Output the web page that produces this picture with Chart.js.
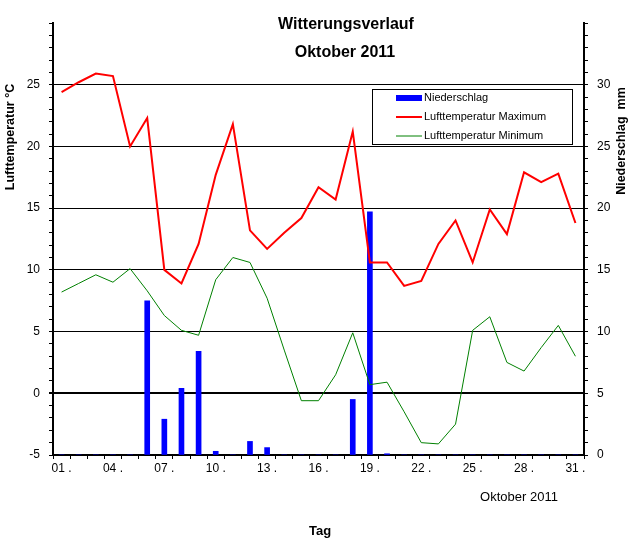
<!DOCTYPE html>
<html>
<head>
<meta charset="utf-8">
<script src="https://cdn.jsdelivr.net/npm/chart.js@4.4.1/dist/chart.umd.min.js"></script>
<style>
    html, body { margin: 0; padding: 0; background: #ffffff; }
    #wrap { width: 634px; height: 553px; }
</style>
</head>
<body>
<div id="wrap"><canvas id="chart" width="634" height="553"></canvas></div>
<script>
// Tage im Oktober 2011
const days = ['01','02','03','04','05','06','07','08','09','10','11','12','13','14','15','16',
              '17','18','19','20','21','22','23','24','25','26','27','28','29','30','31'];

// Lufttemperatur Maximum (°C)
const tempMax = [24.4, 25.2, 25.9, 25.7, 20.0, 22.3, 10.0, 8.9, 12.1, 17.7, 21.8, 13.2, 11.7, 13.0, 14.2, 16.7,
                 15.7, 21.2, 10.6, 10.6, 8.7, 9.1, 12.1, 14.0, 10.6, 14.9, 12.9, 17.9, 17.1, 17.8, 13.8];

// Lufttemperatur Minimum (°C)
const tempMin = [8.2, 8.9, 9.6, 9.0, 10.1, 8.3, 6.3, 5.1, 4.7, 9.2, 11.0, 10.6, 7.7, 3.5, -0.6, -0.6,
                 1.5, 4.9, 0.7, 0.9, -1.5, -4.0, -4.1, -2.5, 5.1, 6.2, 2.5, 1.8, 3.7, 5.5, 3.0];

// Niederschlag (mm)
const rain = [0, 0, 0, 0, 0, 12.5, 2.9, 5.4, 8.4, 0.3, 0, 1.1, 0.6, 0, 0, 0,
              0, 4.5, 19.7, 0.1, 0, 0, 0, 0, 0, 0, 0, 0, 0, 0, 0];

const FONT = '"Liberation Sans", Arial, sans-serif';

/**
 * Titles, axis titles and legend box
 */
const decorPlugin = {
    id: 'decor',
    afterDraw(chart) {
        const ctx = chart.ctx;
        ctx.save();
        ctx.fillStyle = '#000';
        ctx.textAlign = 'center';
        ctx.textBaseline = 'middle';

        ctx.font = 'bold 16px ' + FONT;
        ctx.fillText('Witterungsverlauf', 346, 25);
        ctx.fillText('Oktober 2011', 345, 53);

        ctx.font = '13px ' + FONT;
        ctx.fillText('Oktober 2011', 519, 497);
        ctx.font = 'bold 13px ' + FONT;
        ctx.fillText('Tag', 320, 531);

        // rotated axis titles
        ctx.font = 'bold 12.5px ' + FONT;
        ctx.save();
        ctx.translate(11, 137);
        ctx.rotate(-Math.PI / 2);
        ctx.fillText('Lufttemperatur °C', 0, 0);
        ctx.restore();

        ctx.save();
        ctx.translate(622, 141);
        ctx.rotate(-Math.PI / 2);
        ctx.fillText('Niederschlag  mm', 0, 0);
        ctx.restore();

        // legend
        ctx.fillStyle = '#fff';
        ctx.fillRect(372.5, 89.5, 200, 55);
        ctx.strokeStyle = '#000';
        ctx.lineWidth = 1;
        ctx.strokeRect(372.5, 89.5, 200, 55);

        const ds = chart.data.datasets;
        const rows = [98, 117, 136];
        ctx.textAlign = 'left';
        ctx.font = '11px ' + FONT;
        ds.forEach((d, i) => {
            const y = rows[i];
            if (d.type === 'bar') {
                ctx.fillStyle = d.backgroundColor;
                ctx.fillRect(396, y - 3, 26, 6);
            } else {
                ctx.strokeStyle = d.borderColor;
                ctx.lineWidth = d.borderWidth;
                ctx.beginPath();
                ctx.moveTo(396, y);
                ctx.lineTo(422, y);
                ctx.stroke();
            }
            ctx.fillStyle = '#000';
            ctx.fillText(d.label, 424, y);
        });
        ctx.restore();
    }
};

const chart = new Chart(document.getElementById('chart'), {
    data: {
        labels: days,
        datasets: [
            {
                type: 'bar',
                label: 'Niederschlag',
                data: rain,
                yAxisID: 'y2',
                backgroundColor: '#0000ff',
                barThickness: 5,
                order: 3
            },
            {
                type: 'line',
                label: 'Lufttemperatur Maximum',
                data: tempMax,
                yAxisID: 'y',
                borderColor: '#ff0000',
                borderWidth: 2,
                pointRadius: 0,
                tension: 0,
                order: 1
            },
            {
                type: 'line',
                label: 'Lufttemperatur Minimum',
                data: tempMin,
                yAxisID: 'y',
                borderColor: '#008000',
                borderWidth: 1,
                pointRadius: 0,
                tension: 0,
                order: 2
            }
        ]
    },
    options: {
        responsive: false,
        animation: false,
        devicePixelRatio: 1,
        layout: { padding: { top: 23, left: 0, right: 0, bottom: 0 } },
        plugins: {
            legend: { display: false },
            title: { display: false },
            tooltip: { enabled: false }
        },
        scales: {
            x: {
                type: 'category',
                offset: true,
                afterFit: (s) => { s.height = 98; },
                border: { color: '#000', width: 2 },
                grid: {
                    offset: true,
                    drawOnChartArea: false,
                    drawTicks: true,
                    tickLength: 4,
                    tickColor: '#000'
                },
                ticks: {
                    autoSkip: false,
                    maxRotation: 0,
                    padding: 2,
                    color: '#000',
                    font: { family: FONT, size: 12 },
                    callback: (v, i) => (i % 3 === 0 ? days[i] + ' .' : '')
                }
            },
            y: {
                position: 'left',
                min: -5,
                max: 30,
                afterFit: (s) => { s.width = 53; },
                border: { color: '#000', width: 2 },
                grid: {
                    color: (c) => {
                        const v = c.tick.value;
                        return (v % 5 === 0 && v > -5 && v < 30) ? '#000' : 'rgba(0,0,0,0)';
                    },
                    lineWidth: (c) => (c.tick.value === 0 ? 2 : 1),
                    tickColor: '#000',
                    tickLength: 4
                },
                ticks: {
                    stepSize: 1,
                    autoSkip: false,
                    padding: 9,
                    color: '#000',
                    font: { family: FONT, size: 12 },
                    callback: (v) => (v % 5 === 0 && v < 30 ? String(v) : '')
                }
            },
            y2: {
                position: 'right',
                min: 0,
                max: 35,
                afterFit: (s) => { s.width = 50; },
                border: { color: '#000', width: 2 },
                grid: {
                    drawOnChartArea: false,
                    tickColor: '#000',
                    tickLength: 4
                },
                ticks: {
                    stepSize: 1,
                    autoSkip: false,
                    padding: 9,
                    color: '#000',
                    font: { family: FONT, size: 12 },
                    callback: (v) => (v % 5 === 0 && v < 35 ? String(v) : '')
                }
            }
        }
    },
    plugins: [decorPlugin]
});
</script>
</body>
</html>
